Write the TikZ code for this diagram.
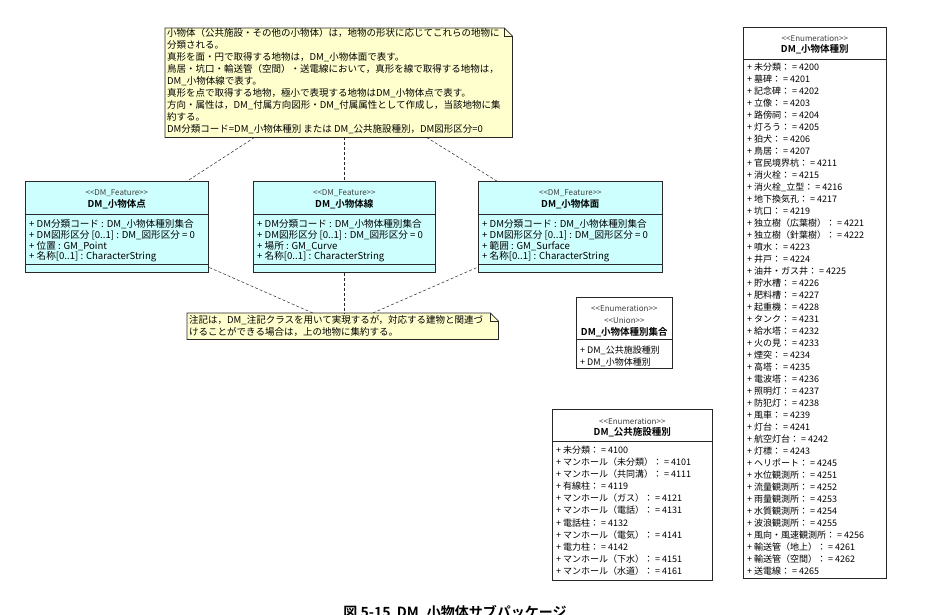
\documentclass[tikz,border=0pt]{standalone}
\usepackage{fontspec}
\setmainfont{Noto Sans CJK JP}[BoldFont={Noto Sans CJK JP Bold}]
\usetikzlibrary{calc}
\definecolor{notefill}{RGB}{255,255,206}
\definecolor{classfill}{RGB}{206,255,255}
\definecolor{edge}{RGB}{40,40,40}
\newcommand{\stt}[1]{{<}{<}#1{>}{>}}
\begin{document}
\begin{tikzpicture}[x=1pt,y=-1pt,
  frame/.style={draw=edge, line width=0.7pt, inner sep=0pt, anchor=north west},
  cls/.style={frame, fill=classfill},
  enumbox/.style={frame, fill=white},
  area/.style={inner sep=0pt, anchor=north west},
  stereo/.style={font=\fontsize{8}{9}\selectfont, text=black!75, inner sep=0pt},
  title/.style={font=\fontsize{9.5}{11}\selectfont\bfseries, inner sep=0pt},
  attr/.style={font=\fontsize{9.6}{11}\selectfont, inner sep=0pt, anchor=west},
  row/.style={font=\fontsize{9}{11}\selectfont, inner sep=0pt, anchor=west},
  notetext/.style={font=\fontsize{9.5}{12}\selectfont, inner sep=0pt, anchor=west},
  link/.style={draw=edge, dash pattern=on 3pt off 2pt, line width=0.5pt},
  divider/.style={draw=edge, line width=0.6pt}
]
\useasboundingbox (0,0) rectangle (942,614);

% ---------- top note ----------
\node[area, minimum width=347pt, minimum height=109pt] (n1) at (165,28) {};
\filldraw[fill=notefill, draw=edge, line width=0.7pt] (n1.north west) -- ($(n1.north east)+(-8,0)$) -- ($(n1.north east)+(0,8)$) -- (n1.south east) -- (n1.south west) -- cycle;
\draw[edge, line width=0.5pt] ($(n1.north east)+(-8,0)$) -- ($(n1.north east)+(-8,8)$) -- ($(n1.north east)+(0,8)$);
\foreach \t [count=\i from 0] in {
  小物体（公共施設・その他の小物体）は，地物の形状に応じてこれらの地物に,
  分類される。,
  真形を面・円で取得する地物は，DM\_小物体面で表す。,
  鳥居・坑口・輸送管（空間）・送電線において，真形を線で取得する地物は，,
  DM\_小物体線で表す。,
  真形を点で取得する地物，極小で表現する地物はDM\_小物体点で表す。,
  方向・属性は，DM\_付属方向図形・DM\_付属属性として作成し，当該地物に集,
  約する。,
  DM分類コード=DM\_小物体種別 または DM\_公共施設種別，DM図形区分=0}
  \node[notetext] (n1l\i) at ($(n1.north west)+(2,{5+12*\i})$) {\t};

% ---------- class boxes ----------
\node[cls, minimum width=183pt, minimum height=91pt] (c1) at (25,181) {};
\node[cls, minimum width=182pt, minimum height=91pt] (c2) at (253,181) {};
\node[cls, minimum width=184pt, minimum height=91pt] (c3) at (478,181) {};
\foreach \c/\nm in {c1/点, c2/線, c3/面} {
  \draw[divider] ($(\c.north west)+(0,33)$) -- ($(\c.north east)+(0,33)$);
  \draw[divider] ($(\c.north west)+(0,83)$) -- ($(\c.north east)+(0,83)$);
  \node[stereo] (\c s) at ($(\c.north)+(0,12)$) {\stt{DM\_Feature}};
  \node[title] (\c t) at ($(\c.north)+(0,23)$) {DM\_小物体\nm};
  \node[attr] (\c a1) at ($(\c.north west)+(4,43)$) {+ DM分類コード : DM\_小物体種別集合};
  \node[attr] (\c a2) at ($(\c.north west)+(4,54)$) {+ DM図形区分 [0..1] : DM\_図形区分 = 0};
  \node[attr] (\c a4) at ($(\c.north west)+(4,76)$) {+ 名称[0..1] : CharacterString};
}
\node[attr] (c1a3) at ($(c1.north west)+(4,65)$) {+ 位置 : GM\_Point};
\node[attr] (c2a3) at ($(c2.north west)+(4,65)$) {+ 場所 : GM\_Curve};
\node[attr] (c3a3) at ($(c3.north west)+(4,65)$) {+ 範囲 : GM\_Surface};

% ---------- bottom note ----------
\node[area, minimum width=311pt, minimum height=26pt] (n2) at (187,313) {};
\filldraw[fill=notefill, draw=edge, line width=0.7pt] (n2.north west) -- ($(n2.north east)+(-8,0)$) -- ($(n2.north east)+(0,8)$) -- (n2.south east) -- (n2.south west) -- cycle;
\draw[edge, line width=0.5pt] ($(n2.north east)+(-8,0)$) -- ($(n2.north east)+(-8,8)$) -- ($(n2.north east)+(0,8)$);
\node[notetext] (n2l0) at ($(n2.north west)+(2,7)$) {注記は，DM\_注記クラスを用いて実現するが，対応する建物と関連づ};
\node[notetext] (n2l1) at ($(n2.north west)+(2,18.5)$) {けることができる場合は，上の地物に集約する。};

% ---------- note links ----------
\draw[link] (n1) -- (c1);
\draw[link] (c2.north |- n1.south) -- (c2.north);
\draw[link] (n1) -- (c3);
\draw[link] (n2) -- (c1);
\draw[link] (c2.south) -- (c2.south |- n2.north);
\draw[link] (n2) -- (c3);

% ---------- union enumeration ----------
\node[enumbox, minimum width=96pt, minimum height=71pt] (u) at (576,297) {};
\node[stereo] (us1) at ($(u.north)+(0,11)$) {\stt{Enumeration}};
\node[stereo] (us2) at ($(u.north)+(0,23)$) {\stt{Union}};
\node[title] (ut) at ($(u.north)+(0,35)$) {DM\_小物体種別集合};
\draw[divider] ($(u.north west)+(0,42)$) -- ($(u.north east)+(0,42)$);
\node[row] (ur1) at ($(u.north west)+(4,53)$) {+ DM\_公共施設種別};
\node[row] (ur2) at ($(u.north west)+(4,65)$) {+ DM\_小物体種別};

% ---------- DM_公共施設種別 ----------
\node[enumbox, minimum width=160pt, minimum height=171pt] (e1) at (552,409) {};
\node[stereo] (e1s) at ($(e1.north)+(0,12)$) {\stt{Enumeration}};
\node[title] (e1t) at ($(e1.north)+(0,23)$) {DM\_公共施設種別};
\draw[divider] ($(e1.north west)+(0,32)$) -- ($(e1.north east)+(0,32)$);
\foreach \t [count=\i from 0] in {
  未分類： = 4100, マンホール（未分類）： = 4101, マンホール（共同溝）： = 4111,
  有線柱： = 4119, マンホール（ガス）： = 4121, マンホール（電話）： = 4131,
  電話柱： = 4132, マンホール（電気）： = 4141, 電力柱： = 4142,
  マンホール（下水）： = 4151, マンホール（水道）： = 4161}
  \node[row] (e1r\i) at ($(e1.north west)+(4,{41+12.1*\i})$) {+ \t};

% ---------- DM_小物体種別 ----------
\node[enumbox, minimum width=143pt, minimum height=551pt] (e2) at (743,27) {};
\node[stereo] (e2s) at ($(e2.north)+(0,11)$) {\stt{Enumeration}};
\node[title] (e2t) at ($(e2.north)+(0,22)$) {DM\_小物体種別};
\draw[divider] ($(e2.north west)+(0,32)$) -- ($(e2.north east)+(0,32)$);
\foreach \t [count=\i from 0] in {
  未分類： = 4200, 墓碑： = 4201, 記念碑： = 4202, 立像： = 4203, 路傍祠： = 4204,
  灯ろう： = 4205, 狛犬： = 4206, 鳥居： = 4207, 官民境界杭： = 4211, 消火栓： = 4215,
  消火栓\_立型： = 4216, 地下換気孔： = 4217, 坑口： = 4219,
  独立樹（広葉樹）： = 4221, 独立樹（針葉樹）： = 4222, 噴水： = 4223, 井戸： = 4224,
  油井・ガス井： = 4225, 貯水槽： = 4226, 肥料槽： = 4227, 起重機： = 4228,
  タンク： = 4231, 給水塔： = 4232, 火の見： = 4233, 煙突： = 4234, 高塔： = 4235,
  電波塔： = 4236, 照明灯： = 4237, 防犯灯： = 4238, 風車： = 4239, 灯台： = 4241,
  航空灯台： = 4242, 灯標： = 4243, ヘリポート： = 4245, 水位観測所： = 4251,
  流量観測所： = 4252, 雨量観測所： = 4253, 水質観測所： = 4254, 波浪観測所： = 4255,
  風向・風速観測所： = 4256, 輸送管（地上）： = 4261, 輸送管（空間）： = 4262,
  送電線： = 4265}
  \node[row] (e2r\i) at ($(e2.north west)+(4,{40+12*\i})$) {+ \t};

% ---------- caption ----------
\node[font=\fontsize{14}{16}\selectfont\bfseries, anchor=north, inner sep=0pt] (cap) at (455,605) {図 5-15\ \ DM\_小物体サブパッケージ};
\end{tikzpicture}
\end{document}
